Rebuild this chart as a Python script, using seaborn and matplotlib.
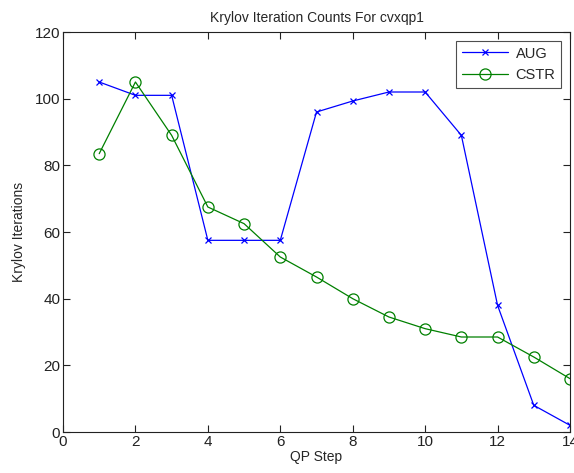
import matplotlib
matplotlib.use("Agg")
import matplotlib.pyplot as plt
import seaborn as sns
import pandas as pd

steps = list(range(1, 15))
aug = [105, 101, 101, 57.5, 57.5, 57.5, 96, 99.3, 102, 102, 89, 38, 8, 2]
cstr = [83.5, 105, 89, 67.5, 62.5, 52.5, 46.5, 40, 34.5, 31, 28.5, 28.5, 22.5, 16]
x_ticks = [0, 2, 4, 6, 8, 10, 12, 14]
y_ticks = [0, 20, 40, 60, 80, 100, 120]

sns.set_style("ticks")
plt.rcParams['font.family'] = ['Liberation Sans', 'DejaVu Sans']

fig = plt.figure(figsize=(5.74, 4.73), dpi=100)
ax = fig.add_axes([63/574, 41/473, 507/574, 400/473])

df_aug = pd.DataFrame({"step": steps, "val": aug})
df_cstr = pd.DataFrame({"step": steps, "val": cstr})

sns.lineplot(data=df_aug, x="step", y="val", ax=ax, color=(0, 0, 1), marker="x",
             markersize=5, markeredgewidth=0.9, markeredgecolor=(0, 0, 1),
             linewidth=0.9, label="AUG")
sns.lineplot(data=df_cstr, x="step", y="val", ax=ax, color=(0, 0.5, 0), marker="o",
             markersize=8, markerfacecolor="none", markeredgecolor=(0, 0.5, 0),
             markeredgewidth=0.9, linewidth=0.9, label="CSTR")

ax.set_xlim(0, 14)
ax.set_ylim(0, 120)
ax.set_xticks(x_ticks)
ax.set_yticks(y_ticks)
ax.tick_params(direction="in", top=True, right=True, length=5, width=0.8,
               labelsize=11, colors="#222222", pad=2)
for s in ax.spines.values():
    s.set_linewidth(0.8)
    s.set_color("#222222")
    s.set_visible(True)

ax.set_title("Krylov Iteration Counts For cvxqp1", fontsize=10, pad=7)
ax.set_xlabel("QP Step", fontsize=10, labelpad=1)
ax.set_ylabel("Krylov Iterations", fontsize=10, labelpad=6)

leg = ax.legend(loc="upper right", fontsize=10.5, frameon=True, fancybox=False,
                edgecolor="#222222", borderaxespad=0.6, handlelength=3.2,
                borderpad=0.4, labelspacing=0.5, handletextpad=0.5)
leg.get_frame().set_linewidth(0.8)

fig.savefig("out.png", dpi=100)
